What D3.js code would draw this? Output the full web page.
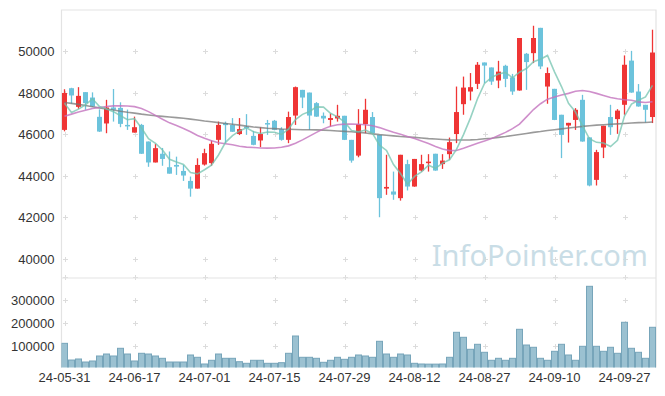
<!DOCTYPE html>
<html>
<head>
<meta charset="utf-8">
<script src="https://cdn.jsdelivr.net/npm/d3@7/dist/d3.min.js"></script>
<style>
  body { margin: 0; background: #fff; }
  svg { display: block; font-family: "Noto Sans", sans-serif; }
  .axis text { font-size: 13px; fill: #333; }
</style>
</head>
<body>
<div class="chart-container"></div>
<script>
// Data
const dates = [
  '2024-05-31','2024-06-03','2024-06-04','2024-06-05','2024-06-07','2024-06-10','2024-06-11','2024-06-12','2024-06-13','2024-06-14',
  '2024-06-17','2024-06-18','2024-06-19','2024-06-20','2024-06-21','2024-06-24','2024-06-25','2024-06-26','2024-06-27','2024-06-28',
  '2024-07-01','2024-07-02','2024-07-03','2024-07-04','2024-07-05','2024-07-08','2024-07-09','2024-07-10','2024-07-11','2024-07-12',
  '2024-07-15','2024-07-16','2024-07-17','2024-07-18','2024-07-19','2024-07-22','2024-07-23','2024-07-24','2024-07-25','2024-07-26',
  '2024-07-29','2024-07-30','2024-07-31','2024-08-01','2024-08-02','2024-08-05','2024-08-06','2024-08-07','2024-08-08','2024-08-09',
  '2024-08-12','2024-08-13','2024-08-14','2024-08-16','2024-08-19','2024-08-20','2024-08-21','2024-08-22','2024-08-23','2024-08-26',
  '2024-08-27','2024-08-28','2024-08-29','2024-08-30','2024-09-02','2024-09-03','2024-09-04','2024-09-05','2024-09-06','2024-09-09',
  '2024-09-10','2024-09-11','2024-09-12','2024-09-13','2024-09-19','2024-09-20','2024-09-23','2024-09-24','2024-09-25','2024-09-26',
  '2024-09-27','2024-09-30','2024-10-02','2024-10-04','2024-10-07'
];
const opens = [
  46220,48230,47330,48040,47780,46850,46530,47300,47280,46460,
  46090,46460,45660,44650,45070,44420,44530,44240,43760,43390,
  44550,44620,45740,46550,46460,46020,46380,45930,45710,46550,
  46660,46260,45740,46910,48150,48020,47510,46900,46700,46770,
  46900,45740,44980,46500,46840,45980,43390,43250,42930,44570,
  43490,44260,44620,45070,44570,45050,46020,47460,48070,48440,
  49470,49230,48600,49310,48750,48120,49890,49920,51140,48310,
  48200,46950,46430,46700,47670,45860,43810,45370,46840,46740,
  47430,49560,48070,47430,46840
];
const highs = [
  48180,48250,48280,48040,48030,47210,47670,48190,47550,47200,
  46860,46510,45660,45550,45350,45180,44930,44530,43970,44850,
  45310,45710,46620,46620,46790,46790,46980,46170,46350,46700,
  46700,46350,47100,48310,48150,48020,47560,47060,47010,47430,
  46900,45740,47220,47720,47080,45980,45020,44210,45020,44780,
  44820,45020,45050,45070,45050,45850,48310,48790,48960,49490,
  49470,49230,49550,49360,48920,50650,49930,51240,51140,49230,
  48200,46950,46560,47270,47910,45860,45260,46420,47430,47220,
  49810,50030,48430,47430,51050
];
const lows = [
  46150,47480,47240,47190,47330,46120,46060,46620,46350,46220,
  46090,45060,44440,44650,44490,44110,44050,43760,43000,43390,
  44500,44490,45500,45580,46120,45970,45980,45480,45390,45980,
  46200,45700,45580,46460,47270,46220,46850,46540,46380,46620,
  45730,44640,44900,46060,46050,42010,43090,42850,42810,43300,
  43480,44210,44210,44250,44340,44780,45580,46950,47640,48190,
  48470,48390,48230,48280,47910,48110,48150,49440,49150,47480,
  46690,44860,45610,46220,45650,43500,43540,44860,45980,46030,
  46950,48010,47340,46570,46550
];
const closes = [
  48000,47880,47860,47510,47350,46140,47300,47190,46510,46430,
  46350,45070,44650,45340,44820,44110,44450,44020,43390,44530,
  45100,45550,46460,46450,46130,46260,46320,45500,46020,46500,
  46220,45740,46840,48280,47780,46910,46860,46770,46790,46900,
  45740,44740,46500,47190,46060,42930,43470,43100,45020,43490,
  44820,44570,44690,44260,44740,45630,47080,48260,48280,49360,
  49320,48550,49030,48680,48070,50650,49490,50650,49280,48960,
  46700,45980,46560,47190,45660,43540,45150,46420,46350,47150,
  49360,48020,47350,47190,49950
];
const volumes = [
  111000,38000,42500,29300,33700,55600,64300,55600,89300,64300,
  33700,67400,64300,55600,45500,29300,29300,29300,60000,49900,
  20600,36800,64300,45500,45500,30600,23600,36800,36800,23600,
  23600,26300,67400,143100,49900,49900,45500,28000,36800,49900,
  41100,49900,60000,55600,49900,119900,64300,49900,64300,60000,
  23600,20600,20000,20000,20600,49900,159300,137400,84900,106800,
  71800,36800,45500,36800,45500,172400,103700,93700,45500,36800,
  76100,106800,60000,36800,98000,360600,98000,76100,93700,67400,
  203100,89300,71800,45500,181200
];
// moving averages as drawn (5 / 20 / 60 days)
const ma5 = [
  47500,47060,47220,47430,47720,47350,47230,47100,46900,46710,
  46760,46310,45800,45570,45250,44800,44670,44550,44160,44100,
  44300,44520,45010,45620,45940,46170,46320,46130,46050,46120,
  46110,46000,46260,46720,46970,47110,47330,47320,47020,46850,
  46610,46190,46130,46210,46050,45480,45230,44550,44120,43600,
  43980,44200,44520,44370,44620,44780,45280,45990,46800,47720,
  48460,48750,48910,48990,48730,49000,49180,49510,49630,49810,
  49020,48310,47500,47080,46420,45790,45620,45590,45420,45720,
  46890,47460,47650,47810,48370
];
const ma20 = [
  46880,46980,47080,47170,47250,47300,47350,47380,47380,47370,
  47340,47250,47100,46920,46730,46560,46430,46290,46130,45950,
  45820,45700,45600,45550,45500,45430,45390,45370,45350,45340,
  45345,45380,45450,45580,45740,45920,46100,46270,46400,46470,
  46500,46500,46490,46470,46420,46330,46220,46110,46010,45900,
  45800,45680,45560,45420,45300,45220,45230,45330,45460,45580,
  45680,45800,45950,46100,46280,46500,46850,47200,47480,47700,
  47810,47900,47980,48080,48120,48070,47980,47880,47780,47720,
  47670,47650,47570,47540,47580
];
const ma60 = [
  47540,47500,47450,47400,47340,47280,47230,47180,47120,47070,
  47030,46980,46940,46900,46870,46840,46810,46780,46740,46700,
  46650,46610,46570,46530,46490,46450,46400,46360,46330,46300,
  46280,46260,46250,46240,46230,46225,46220,46210,46190,46170,
  46150,46130,46100,46070,46030,45990,45960,45930,45900,45880,
  45860,45830,45800,45780,45760,45740,45730,45730,45740,45760,
  45790,45820,45860,45900,45950,46000,46050,46100,46140,46190,
  46230,46270,46310,46350,46390,46420,46450,46470,46490,46510,
  46530,46550,46570,46580,46600
];
const priceTicks = [40000, 42000, 44000, 46000, 48000, 50000];
const volumeTicks = [100000, 200000, 300000];
const volumeGrid = [100000, 200000, 300000, 400000];

const data = dates.map((d, i) => ({
  date: d, open: opens[i], high: highs[i], low: lows[i], close: closes[i],
  volume: volumes[i], ma5: ma5[i], ma20: ma20[i], ma60: ma60[i]
}));

// Canvas
const svg_width = 665;
const svg_height = 396;
const left = 61.5, right = 656;
const priceTop = 10, priceBottom = 278;
const volTop = 278, volBottom = 367.5;

const svg = d3.select('.chart-container').append('svg')
  .attr('width', svg_width).attr('height', svg_height);

// scales
const xScale = d3.scaleBand().domain(dates).range([61, 656]).padding(0);
const xMid = d => xScale(d) + xScale.bandwidth() / 2;
const yPrice = d3.scaleLinear([39080, 52000], [priceBottom, priceTop]);
const yVol = d3.scaleLinear([0, 400000], [368.7, 277.3]);

const xTickDates = dates.filter((d, i) => i % 10 === 0);

// grid: little crosses at tick intersections
const grid = svg.append('g').attr('class', 'grid');
function crosses(yValues, yScale) {
  xTickDates.forEach(d => {
    yValues.forEach(v => {
      const cx = Math.round(xMid(d)) + 0.5, cy = Math.round(yScale(v)) + 0.5;
      grid.append('path')
        .attr('d', `M${cx - 2.5},${cy}h5M${cx},${cy - 2.5}v5`)
        .attr('stroke', '#dcdcdc').attr('stroke-width', 1);
    });
  });
}
crosses(priceTicks, yPrice);
crosses(volumeGrid, yVol);

// frame lines
const frame = svg.append('g').attr('class', 'frame')
  .attr('stroke', '#e3e3e3').attr('stroke-width', 1.2).attr('fill', 'none');
frame.append('path').attr('d', `M${left},${volBottom}V${priceTop}H${right}V${volBottom}`);
frame.append('path').attr('d', `M${left},${priceBottom}H${right}`);

// watermark
svg.append('text')
  .attr('x', 648).attr('y', 266)
  .attr('text-anchor', 'end')
  .style('font-size', '29px')
  .style('fill', '#c9dde6')
  .text('InfoPointer.com');

// volume bars
svg.append('clipPath').attr('id', 'volClip')
  .append('rect').attr('x', left).attr('y', volTop).attr('width', right - left).attr('height', volBottom - volTop);

svg.append('g').attr('clip-path', 'url(#volClip)')
  .selectAll('.vol').data(data).join('rect').attr('class', 'vol')
  .attr('x', d => xScale(d.date) + 0.5)
  .attr('y', d => yVol(d.volume))
  .attr('width', xScale.bandwidth() - 1)
  .attr('height', d => yVol(0) - yVol(d.volume))
  .style('fill', '#9bc1d1')
  .style('stroke', '#77a5ba')
  .style('stroke-width', 1);

// candles
const up = '#ef3535', down = '#6cc3dc';
const candles = svg.append('g').attr('class', 'candles')
  .selectAll('g').data(data).join('g');

candles.append('line')
  .attr('x1', d => xMid(d.date)).attr('x2', d => xMid(d.date))
  .attr('y1', d => yPrice(d.high)).attr('y2', d => yPrice(d.low))
  .attr('stroke', d => d.close >= d.open ? up : down)
  .attr('stroke-width', 1.3);

candles.append('rect')
  .attr('x', d => xScale(d.date) + 1)
  .attr('width', xScale.bandwidth() - 2)
  .attr('y', d => yPrice(Math.max(d.open, d.close)))
  .attr('height', d => Math.max(1.5, Math.abs(yPrice(d.open) - yPrice(d.close))))
  .style('fill', d => d.close >= d.open ? up : down);

// moving average lines
const maLines = [
  {key: 'ma60', color: 'rgba(120,120,120,0.75)'},
  {key: 'ma20', color: 'rgba(195,115,190,0.8)'},
  {key: 'ma5', color: 'rgba(115,195,175,0.75)'}
];
maLines.forEach(m => {
  const line = d3.line().x(d => xMid(d.date)).y(d => yPrice(d[m.key]));
  svg.append('path').datum(data)
    .attr('d', line)
    .attr('fill', 'none')
    .attr('stroke', m.color)
    .attr('stroke-width', 1.6);
});

// axes
const yAxisPrice = d3.axisLeft(yPrice).tickValues(priceTicks).tickSize(0).tickPadding(7).tickFormat(d3.format('d'));
svg.append('g').attr('class', 'y axis').attr('transform', `translate(${left},0)`).call(yAxisPrice)
  .call(g => g.select('.domain').remove());

const yAxisVol = d3.axisLeft(yVol).tickValues(volumeTicks).tickSize(0).tickPadding(7).tickFormat(d3.format('d'));
svg.append('g').attr('class', 'y axis').attr('transform', `translate(${left},0)`).call(yAxisVol)
  .call(g => g.select('.domain').remove());

const xAxis = d3.axisBottom(xScale).tickValues(xTickDates).tickSize(0).tickPadding(5)
  .tickFormat(d => d.slice(2));
svg.append('g').attr('class', 'x axis').attr('transform', `translate(0,${volBottom})`).call(xAxis)
  .call(g => g.select('.domain').remove());
</script>
</body>
</html>
